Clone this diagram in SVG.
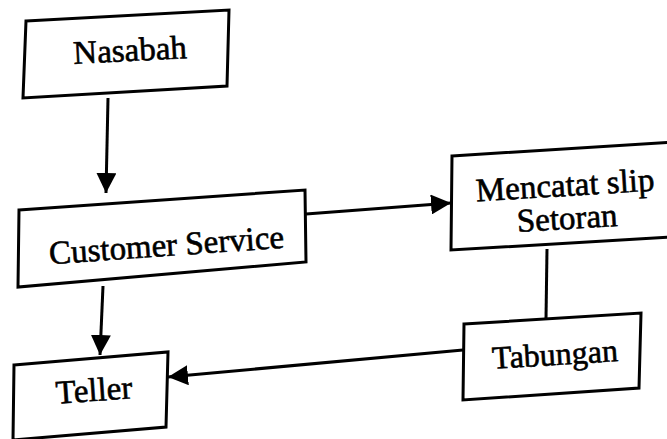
<svg xmlns="http://www.w3.org/2000/svg" width="667" height="439" viewBox="0 0 667 439">
<style>
.box{fill:#fff;stroke:#000;stroke-width:3;stroke-linejoin:miter}
.lbl{font-family:"Liberation Serif","Times New Roman",serif;font-size:33px;fill:#000;stroke:#000;stroke-width:0.6;text-anchor:middle}
.con{fill:none;stroke:#000;stroke-width:3}
</style>
<defs>
<marker id="arr" markerUnits="userSpaceOnUse" markerWidth="20" markerHeight="20" viewBox="0 0 18 18" refX="18" refY="9" orient="auto">
<path d="M0,0 L18,9 L0,18 Z" fill="#000"/>
</marker>
</defs>
<rect width="667" height="439" fill="#fff"/>
<g id="connectors">
<line class="con" x1="108" y1="98" x2="106" y2="193" marker-end="url(#arr)"/>
<line class="con" x1="306" y1="214" x2="451" y2="203" marker-end="url(#arr)"/>
<line class="con" x1="103" y1="286" x2="100" y2="355" marker-end="url(#arr)"/>
<line class="con" x1="547" y1="249" x2="546" y2="319"/>
<line class="con" x1="463" y1="350" x2="168" y2="377" marker-end="url(#arr)"/>
</g>
<g id="nasabah">
<polygon class="box" points="26,21 229,10 227,86 23,98"/>
<text class="lbl" x="130" y="61" transform="rotate(-3 130 50)">Nasabah</text>
</g>
<g id="customer-service">
<polygon class="box" points="19,210 305,190 306,262 18,287"/>
<text class="lbl" x="166" y="256" transform="rotate(-4 166 238)">Customer Service</text>
</g>
<g id="mencatat">
<polygon class="box" points="452,156 690,141 690,236 451,250"/>
<text class="lbl" x="566" y="196" transform="rotate(-3.5 566 200)">Mencatat slip</text>
<text class="lbl" x="566" y="229" transform="rotate(-3.5 566 200)">Setoran</text>
</g>
<g id="tabungan">
<polygon class="box" points="464,324 641,313 639,388 463,400"/>
<text class="lbl" x="555" y="365" transform="rotate(-3.5 555 355)" style="font-size:32px">Tabungan</text>
</g>
<g id="teller">
<polygon class="box" points="14,365 168,352 166,427 13,440"/>
<text class="lbl" x="94" y="401" transform="rotate(-4 94 390)">Teller</text>
</g>
</svg>
